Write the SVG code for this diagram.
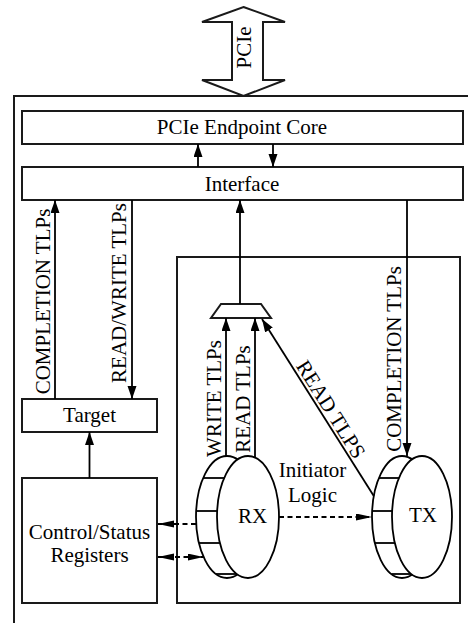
<svg xmlns="http://www.w3.org/2000/svg" width="468" height="623" viewBox="0 0 468 623">
<defs>
<style>
.box{fill:#fff;stroke:#1a1a1a;stroke-width:2}
.ln{fill:none;stroke:#000;stroke-width:1.8}
.dash{fill:none;stroke:#000;stroke-width:1.8;stroke-dasharray:5 3.5}
.cyl{fill:#fff;stroke:#000;stroke-width:1.8}
.c{text-anchor:middle}
</style>
<marker id="ah" markerUnits="userSpaceOnUse" markerWidth="14" markerHeight="10" refX="13" refY="4.5" orient="auto-start-reverse">
<path d="M0,0 L13,4.5 L0,9 z" fill="#000"/>
</marker>
<marker id="ahd" markerUnits="userSpaceOnUse" markerWidth="17" markerHeight="8" refX="16" refY="3.5" orient="auto-start-reverse">
<path d="M0,0 L16,3.5 L0,7 z" fill="#000"/>
</marker>
</defs>
<rect width="468" height="623" fill="#fff"/>
<g font-family="Liberation Serif, Times New Roman, serif" font-size="21" fill="#000">

<g id="pcie-link">
<polygon class="box" points="243.5,7 285,22 263,22 263,80 285,80 243.5,96 202,80 232,80 232,22 202,22"/>
<text class="c" transform="translate(251,47.5) rotate(-90)">PCIe</text>
</g>

<g id="frame">
<polyline class="box" style="fill:none" points="14,623 14,96 468,96"/>
</g>

<g id="endpoint-core">
<rect class="box" x="22" y="111" width="441" height="33"/>
<text class="c" x="242" y="134">PCIe Endpoint Core</text>
</g>

<g id="interface">
<rect class="box" x="22" y="167" width="441" height="33"/>
<text class="c" x="242" y="190.5">Interface</text>
</g>

<g id="initiator">
<rect class="box" x="177" y="257" width="283" height="346"/>
<text class="c" x="312.5" y="477">Initiator</text>
<text class="c" x="312.5" y="502">Logic</text>
</g>

<g id="target">
<rect class="box" x="22" y="399" width="135" height="33"/>
<text class="c" x="89.5" y="421.5">Target</text>
</g>

<g id="csr">
<rect class="box" x="22" y="478" width="135" height="125"/>
<text class="c" x="89.5" y="538.5">Control/Status</text>
<text class="c" x="89.5" y="562">Registers</text>
</g>

<g id="mux">
<polygon class="box" points="221,304 261,304 271,318 211,318"/>
</g>

<g id="rx">
<ellipse class="cyl" cx="227" cy="517" rx="31" ry="61"/>
<line class="ln" x1="203.2" y1="478" x2="225" y2="478"/>
<line class="ln" x1="196.2" y1="511" x2="218" y2="511"/>
<line class="ln" x1="199" y1="543" x2="221" y2="543"/>
<line class="ln" x1="216" y1="574" x2="238" y2="574"/>
<ellipse class="cyl" cx="248" cy="517" rx="31" ry="61"/>
<text class="c" x="252.5" y="523">RX</text>
</g>

<g id="tx">
<ellipse class="cyl" cx="402" cy="517" rx="30" ry="61"/>
<line class="ln" x1="378.9" y1="478" x2="400" y2="478"/>
<line class="ln" x1="372.1" y1="511" x2="393" y2="511"/>
<line class="ln" x1="374.9" y1="543" x2="396" y2="543"/>
<line class="ln" x1="391.3" y1="574" x2="412" y2="574"/>
<ellipse class="cyl" cx="422" cy="517" rx="30" ry="61"/>
<text class="c" x="423" y="522">TX</text>
</g>

<g id="connectors">
<line class="ln" x1="198" y1="167" x2="198" y2="144" marker-end="url(#ah)"/>
<line class="ln" x1="273" y1="144" x2="273" y2="167" marker-end="url(#ah)"/>
<line class="ln" x1="55" y1="399" x2="55" y2="200" marker-end="url(#ah)"/>
<line class="ln" x1="132" y1="200" x2="132" y2="399" marker-end="url(#ah)"/>
<line class="ln" x1="240" y1="304" x2="240" y2="200" marker-end="url(#ah)"/>
<line class="ln" x1="407" y1="200" x2="407" y2="456" marker-end="url(#ah)"/>
<line class="ln" x1="89.5" y1="478" x2="89.5" y2="432" marker-end="url(#ah)"/>
<line class="ln" x1="226" y1="456" x2="226" y2="318" marker-end="url(#ah)"/>
<line class="ln" x1="255" y1="458" x2="255" y2="318" marker-end="url(#ah)"/>
<line class="ln" x1="373.8" y1="496" x2="262" y2="319" marker-end="url(#ah)"/>
<line class="dash" x1="279" y1="517" x2="372" y2="517" marker-end="url(#ahd)"/>
<line class="dash" x1="196" y1="524" x2="158" y2="524" marker-end="url(#ahd)"/>
<line class="dash" x1="158" y1="557" x2="203.5" y2="557" marker-start="url(#ahd)" marker-end="url(#ahd)"/>
</g>

<g id="labels">
<text class="c" transform="translate(49.5,301.5) rotate(-90)">COMPLETION TLPs</text>
<text class="c" transform="translate(125.5,293) rotate(-90)">READ/WRITE TLPs</text>
<text class="c" transform="translate(220.5,398.5) rotate(-90)">WRITE TLPs</text>
<text class="c" transform="translate(249.5,399) rotate(-90)">READ TLPs</text>
<text class="c" transform="translate(400.5,359) rotate(-90)">COMPLETION TLPs</text>
<text class="c" transform="translate(325,413) rotate(57.9)">READ TLPS</text>
</g>
</g>
</svg>
